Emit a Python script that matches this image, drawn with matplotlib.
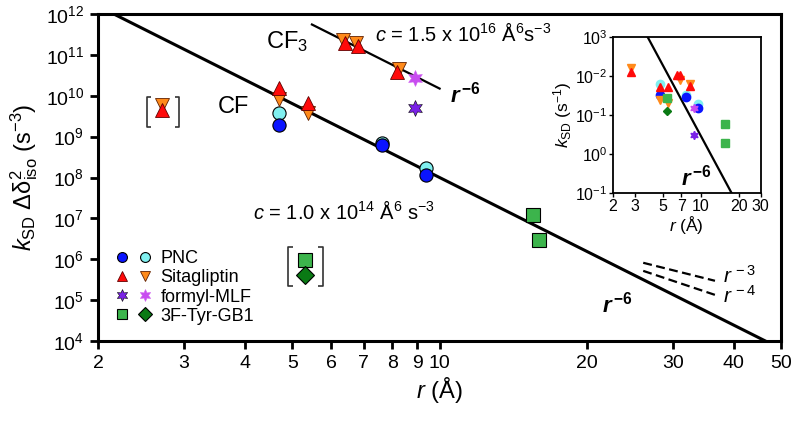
import matplotlib
matplotlib.use('Agg')
import matplotlib.pyplot as plt
import numpy as np
from matplotlib.legend_handler import HandlerTuple

plt.rcParams['font.family'] = ['Liberation Sans', 'DejaVu Sans']
plt.rcParams['mathtext.fontset'] = 'custom'
plt.rcParams['mathtext.rm'] = 'Liberation Sans'
plt.rcParams['mathtext.it'] = 'Liberation Sans:italic'
plt.rcParams['mathtext.bf'] = 'Liberation Sans:bold'
plt.rcParams['mathtext.bfit'] = 'Liberation Sans:italic:bold'

# ---- main panel data: r (A), k_SD * dd^2_iso (s^-3) ----
pnc_blue_r = [4.69, 7.63, 9.38]
pnc_blue_y = [1.93e9, 6.3e8, 1.16e8]
pnc_cyan_r = [4.69, 7.63, 9.38]
pnc_cyan_y = [3.8e9, 7.0e8, 1.72e8]

sita_up_r = [4.69, 5.38, 6.41, 6.81, 8.19, 2.70]
sita_up_y = [1.54e10, 6.7e9, 1.95e11, 1.65e11, 3.8e10, 4.4e9]
sita_dn_r = [4.69, 5.38, 6.33, 6.76, 8.26, 2.70]
sita_dn_y = [8.3e9, 3.8e9, 2.3e11, 1.95e11, 4.5e10, 5.8e9]

fmlf_dark_r = [8.91]
fmlf_dark_y = [5.0e9]
fmlf_light_r = [8.91]
fmlf_light_y = [2.7e10]

gb1_sq_r = [15.5, 16.0, 5.31]
gb1_sq_y = [1.22e7, 3.0e6, 9.7e5]
gb1_dia_r = [5.31]
gb1_dia_y = [4.2e5]

c_cf = 1.0e14
c_cf3 = 1.5e16

# ---- inset data: r (A), k_SD (s^-1) ----
in_pnc_blue_r = [4.73, 7.6, 9.48]
in_pnc_blue_k = [0.031, 0.035, 0.066]
in_pnc_cyan_r = [4.73, 7.6, 9.48]
in_pnc_cyan_k = [0.016, 0.031, 0.052]
in_sita_up_r = [2.78, 4.73, 5.47, 6.45, 6.82, 8.19]
in_sita_up_k = [0.0079, 0.019, 0.019, 0.0094, 0.0094, 0.018]
in_sita_dn_r = [2.78, 4.73, 5.47, 6.82, 8.19]
in_sita_dn_k = [0.0062, 0.041, 0.049, 0.0126, 0.016]
in_fmlf_dark_r = [8.81]
in_fmlf_dark_k = [0.33]
in_fmlf_light_r = [8.81]
in_fmlf_light_k = [0.066]
in_gb1_sq_r = [5.37, 15.5, 15.5]
in_gb1_sq_k = [0.037, 0.17, 0.52]
in_gb1_dia_r = [5.37]
in_gb1_dia_k = [0.079]
in_line_coef = 3.4e-7

blue = '#0a14ff'
cyan = '#80f0f0'
red = '#ff0a0a'
orange = '#ff8a1a'
dpurple = '#7a22e6'
lpurple = '#c84cf0'
green = '#3cb44c'
dgreen = '#0a7a14'
star = (6, 1, 0)


def bracket(ax, xl, xr, yb, yt, tick):
    # square brackets drawn as thin lines
    kw = dict(color='#333333', lw=1.2, solid_capstyle='butt')
    ax.plot([xl * tick, xl, xl, xl * tick], [yb, yb, yt, yt], **kw)
    ax.plot([xr / tick, xr, xr, xr / tick], [yb, yb, yt, yt], **kw)


fig = plt.figure(figsize=(8, 4.26), dpi=100)
ax = fig.add_axes([0.1225, 0.1995, 0.854, 0.7676])
ax.set_xscale('log')
ax.set_yscale('log')
ax.set_xlim(2, 50)
ax.set_ylim(1e4, 1e12)

r = np.logspace(np.log10(2), np.log10(50), 200)
ax.plot(r, c_cf * r**-6, color='black', lw=2.2, zorder=2)
r3 = np.linspace(5.48, 10.0, 50)
ax.plot(r3, c_cf3 * r3**-6, color='black', lw=1.6, zorder=2)

rd = np.array([26.1, 36.6])
ax.plot(rd, 8.2e5 * (rd / 26.1)**-3, color='black', lw=1.6, ls=(0, (4, 2)))
ax.plot(rd, 5.2e5 * (rd / 26.1)**-4, color='black', lw=1.6, ls=(0, (4, 2)))

ms = 9.5
h1, = ax.plot(pnc_cyan_r, pnc_cyan_y, 'o', color=cyan, mec='black', mew=0.8, ms=ms, ls='none', zorder=3)
h0, = ax.plot(pnc_blue_r, pnc_blue_y, 'o', color=blue, mec='black', mew=0.8, ms=ms, ls='none', zorder=4)
h3, = ax.plot(sita_dn_r, sita_dn_y, 'v', color=orange, mec='#602000', mew=0.6, ms=ms + 1, ls='none', zorder=3)
h2, = ax.plot(sita_up_r, sita_up_y, '^', color=red, mec='#600000', mew=0.6, ms=ms + 1, ls='none', zorder=4)
h4, = ax.plot(fmlf_dark_r, fmlf_dark_y, marker=star, color=dpurple, mec='black', mew=0.4, ms=ms + 2, ls='none', zorder=3)
h5, = ax.plot(fmlf_light_r, fmlf_light_y, marker=star, color=lpurple, mec='#d060f0', mew=0.4, ms=ms + 2, ls='none', zorder=3)
h6, = ax.plot(gb1_sq_r, gb1_sq_y, 's', color=green, mec='black', mew=0.8, ms=ms + 1, ls='none', zorder=3)
h7, = ax.plot(gb1_dia_r, gb1_dia_y, 'D', color=dgreen, mec='black', mew=0.8, ms=ms - 0.5, ls='none', zorder=3)

ax.legend([(h0, h1), (h2, h3), (h4, h5), (h6, h7)],
          ['PNC', 'Sitagliptin', 'formyl-MLF', '3F-Tyr-GB1'],
          handler_map={tuple: HandlerTuple(ndivide=None, pad=0.6)},
          loc='upper left', bbox_to_anchor=(0.012, 0.305), frameon=False,
          fontsize=13, markerscale=0.75, handlelength=2.0, handletextpad=0.5,
          labelspacing=0.12, borderpad=0)

# annotations
ax.text(4.42, 2.1e11, r'CF$_3$', fontsize=17, ha='left', va='center')
ax.text(3.51, 5.3e9, 'CF', fontsize=17, ha='left', va='center')
ax.text(7.38, 3.4e11, r'$c$ = 1.5 x 10$^{16}$ Å$^6$s$^{-3}$', fontsize=14.5, ha='left', va='center')
ax.text(4.15, 1.44e7, r'$c$ = 1.0 x 10$^{14}$ Å$^6$ s$^{-3}$', fontsize=14.5, ha='left', va='center')
ax.text(10.5, 1.05e10, r'$\mathbfit{r}^{\,\mathbf{-6}}$', fontsize=16, ha='left', va='center')
ax.text(21.5, 7.7e4, r'$\mathbfit{r}^{\,\mathbf{-6}}$', fontsize=16, ha='left', va='center')
ax.text(38.0, 4.0e5, r'$r^{\,-3}$', fontsize=15, ha='left', va='center')
ax.text(38.0, 1.3e5, r'$r^{\,-4}$', fontsize=15, ha='left', va='center')
bracket(ax, 2.52, 2.93, 1.73e9, 9.3e9, 1.02)
bracket(ax, 4.90, 5.77, 2.24e5, 2.0e6, 1.025)

xt = [2, 3, 4, 5, 6, 7, 8, 9, 10, 20, 30, 40, 50]
ax.set_xticks(xt)
ax.set_xticklabels([str(v) for v in xt])
ax.xaxis.set_minor_locator(matplotlib.ticker.NullLocator())
ax.set_yticks([10.0**e for e in range(4, 13)])
ax.yaxis.set_minor_locator(matplotlib.ticker.NullLocator())
ax.tick_params(direction='out', length=6, width=2, labelsize=14, pad=4)
for s in ax.spines.values():
    s.set_linewidth(2.2)
ax.set_xlabel(r'$r$ (Å)', fontsize=17, labelpad=2)
ax.set_ylabel(r'$k_{\rm SD}$ Δδ$^2_{\rm iso}$ (s$^{-3}$)', fontsize=17, labelpad=4)

# ---- inset ----
ia = fig.add_axes([0.766, 0.547, 0.185, 0.366])
ia.set_xscale('log')
ia.set_yscale('log')
ia.set_xlim(2, 30)
ia.set_ylim(10, 1e-3)
ri = np.logspace(np.log10(2), np.log10(30), 100)
ia.plot(ri, in_line_coef * ri**6, color='black', lw=1.6)
mi = 6
ia.plot(in_pnc_cyan_r, in_pnc_cyan_k, 'o', color=cyan, ms=mi, ls='none')
ia.plot(in_pnc_blue_r, in_pnc_blue_k, 'o', color=blue, ms=mi, ls='none')
ia.plot(in_sita_dn_r, in_sita_dn_k, 'v', color=orange, ms=mi, ls='none')
ia.plot(in_sita_up_r, in_sita_up_k, '^', color=red, ms=mi, ls='none')
ia.plot(in_fmlf_dark_r, in_fmlf_dark_k, marker=star, color=dpurple, ms=mi, ls='none')
ia.plot(in_fmlf_light_r, in_fmlf_light_k, marker=star, color=lpurple, ms=mi, ls='none')
ia.plot(in_gb1_sq_r, in_gb1_sq_k, 's', color=green, ms=mi, ls='none')
ia.plot(in_gb1_dia_r, in_gb1_dia_k, 'D', color=dgreen, ms=mi - 1.5, ls='none')
ia.text(9.2, 4.0, r'$\mathbfit{r}^{\,\mathbf{-6}}$', fontsize=16, ha='center', va='center')

ixt = [2, 3, 5, 7, 10, 20, 30]
ia.set_xticks(ixt)
ia.set_xticklabels([str(v) for v in ixt])
ia.xaxis.set_minor_locator(matplotlib.ticker.NullLocator())
ia.set_yticks([1e-3, 1e-2, 1e-1, 1e0, 1e1])
ia.set_yticklabels([r'10$^3$', r'10$^{-2}$', r'10$^{-1}$', r'10$^0$', r'10$^{-1}$'])
ia.yaxis.set_minor_locator(matplotlib.ticker.NullLocator())
ia.tick_params(direction='out', length=3, width=1, labelsize=11.5, pad=1)
for s in ia.spines.values():
    s.set_linewidth(1.3)
ia.set_xlabel(r'$r$ (Å)', fontsize=12.5, labelpad=0)
ia.set_ylabel(r'$k_{\rm SD}$ (s$^{-1}$)', fontsize=12.5, labelpad=1)

fig.savefig('out.png', dpi=100)
